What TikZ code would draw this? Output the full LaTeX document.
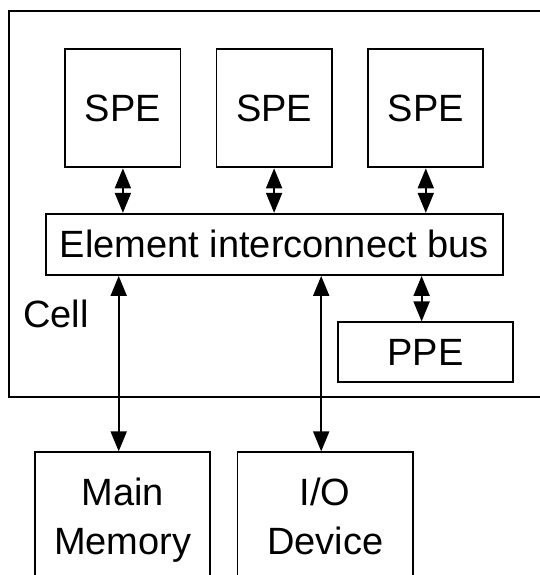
\documentclass[tikz,border=0pt]{standalone}
\usepackage{fontspec}
\setmainfont{Liberation Sans}
\usetikzlibrary{arrows.meta}

\begin{document}
\begin{tikzpicture}[x=1pt, y=-1pt, line width=1.9pt,
    box/.style={draw, inner sep=0pt, align=center},
    biarrow/.style={{Triangle[length=20pt,width=16pt]}-{Triangle[length=20pt,width=16pt]}}]
    \useasboundingbox (0,0) rectangle (539,575);
    \fontsize{38}{48.5}\selectfont
    % Nodes
    \node[box, minimum width=540, minimum height=385.5] (cell) at (279.3,203.8) {};
    \node (celllabel) at (56,314) {Cell};
    \node[box, minimum width=115.2, minimum height=118.6] (spea) at (122.9,108.1) {SPE};
    \node[box, minimum width=115.2, minimum height=118.6] (speb) at (274.1,108.1) {SPE};
    \node[box, minimum width=115.2, minimum height=118.6] (spec) at (425.8,108.1) {SPE};
    \node[box, minimum width=456.6, minimum height=61.2] (bus) at (274.3,244.4) {Element interconnect bus};
    \node[box, minimum width=175.2, minimum height=59.7] (ppe) at (425.6,352.2) {PPE};
    \node[box, minimum width=175.4, minimum height=136] (mem) at (122.7,520.3) {Main\\Memory};
    \node[box, minimum width=175.4, minimum height=136] (io) at (325.2,520.3) {I/O\\Device\vphantom{y}};
    % Arrows
    \draw[biarrow] (spea.south) -- (spea.south |- bus.north);
    \draw[biarrow] (speb.south) -- (speb.south |- bus.north);
    \draw[biarrow] (spec.south) -- (spec.south |- bus.north);
    \draw[biarrow] ([xshift=-4]ppe.north) -- ([xshift=-4]ppe.north |- bus.south);
    \draw[biarrow] ([xshift=-4]mem.north) -- ([xshift=-4]mem.north |- bus.south);
    \draw[biarrow] ([xshift=-4]io.north) -- ([xshift=-4]io.north |- bus.south);
\end{tikzpicture}
\end{document}
